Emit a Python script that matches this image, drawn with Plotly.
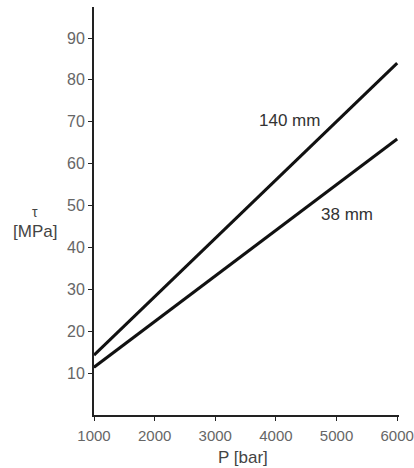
import plotly.graph_objects as go

pressure = [1000, 6000]
tau_140mm = [14.3, 84.0]
tau_38mm = [11.4, 65.9]
x_ticks = [1000, 2000, 3000, 4000, 5000, 6000]
y_ticks = [10, 20, 30, 40, 50, 60, 70, 80, 90]

fig = go.Figure()
fig.add_trace(go.Scatter(x=pressure, y=tau_140mm, mode="lines",
                         line=dict(color="#111", width=3), showlegend=False))
fig.add_trace(go.Scatter(x=pressure, y=tau_38mm, mode="lines",
                         line=dict(color="#111", width=3), showlegend=False))

font = "Liberation Sans, Arial, sans-serif"
H_PLOT = 408.0
fig.add_annotation(x=4230, y=70.4, text="140 mm", showarrow=False,
                   font=dict(family=font, size=17, color="#333"))
fig.add_annotation(x=5170, y=47.8, text="38 mm", showarrow=False,
                   font=dict(family=font, size=17, color="#333"))
fig.add_annotation(xref="paper", yref="paper", x=-0.193, y=(415 - 212) / H_PLOT,
                   xanchor="center", yanchor="middle",
                   text="τ", showarrow=False,
                   font=dict(family=font, size=14, color="#444"))
fig.add_annotation(xref="paper", yref="paper", x=-0.193, y=(415 - 231) / H_PLOT,
                   xanchor="center", yanchor="middle",
                   text="[MPa]", showarrow=False,
                   font=dict(family=font, size=17, color="#444"))
fig.add_annotation(xref="paper", yref="paper", x=0.489, y=-(457 - 415) / H_PLOT,
                   xanchor="center", yanchor="middle",
                   text="P [bar]", showarrow=False,
                   font=dict(family=font, size=17, color="#444"))

fig.update_layout(
    autosize=False,
    width=414, height=468,
    margin=dict(l=94, r=15, t=7, b=53),
    paper_bgcolor="white", plot_bgcolor="white",
    font=dict(family=font, size=15, color="#666"),
)
fig.update_xaxes(range=[1000, 6030], tickvals=x_ticks, showgrid=False, zeroline=False,
                 showline=True, linecolor="#222", linewidth=2, automargin=False,
                 ticks="outside", ticklen=4, tickcolor="#222",
                 ticklabelstandoff=2, ticklabeloverflow="allow",
                 tickfont=dict(size=15))
fig.update_yaxes(range=[0, 97.4], tickvals=y_ticks, showgrid=False, zeroline=False,
                 showline=True, linecolor="#222", linewidth=2, automargin=False,
                 ticks="outside", ticklen=4, tickcolor="#222",
                 tickfont=dict(size=16))

fig.write_html(
    "out.html",
    config={"displayModeBar": False, "responsive": False},
    post_script="document.body.style.margin='0';"
                "document.documentElement.style.overflow='hidden';"
                "document.body.style.overflow='hidden';",
)
